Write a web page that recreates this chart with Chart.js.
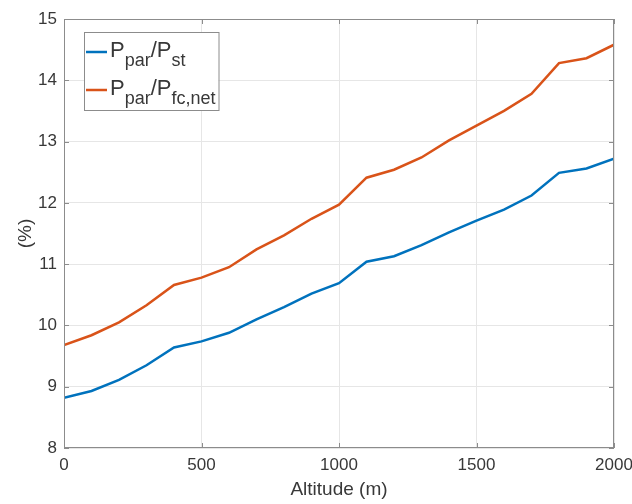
<!DOCTYPE html>
<html>
<head>
<meta charset="utf-8">
<script src="https://cdn.jsdelivr.net/npm/chart.js@4/dist/chart.umd.min.js"></script>
<style>
  html, body { margin: 0; padding: 0; background: #fff; }
</style>
</head>
<body>
<canvas id="chart" width="632" height="504"></canvas>
<script>
const altitudes = [0, 100, 200, 300, 400, 500, 600, 700, 800, 900, 1000,
  1100, 1200, 1300, 1400, 1500, 1600, 1700, 1800, 1900, 2000];
const ratioSt = [8.82, 8.93, 9.11, 9.35, 9.64, 9.74, 9.88, 10.1, 10.3, 10.52, 10.69,
  11.04, 11.13, 11.31, 11.52, 11.71, 11.89, 12.12, 12.49, 12.56, 12.72];
const ratioNet = [9.68, 9.84, 10.05, 10.33, 10.66, 10.78, 10.95, 11.24, 11.47, 11.74, 11.97,
  12.41, 12.54, 12.74, 13.02, 13.26, 13.5, 13.78, 14.28, 14.36, 14.58];
const xTicks = [0, 500, 1000, 1500, 2000];
const yTicks = [8, 9, 10, 11, 12, 13, 14, 15];

// legend entries with subscripts: [text, isSubscript]
const legendLabels = [
  [['P', false], ['par', true], ['/P', false], ['st', true]],
  [['P', false], ['par', true], ['/P', false], ['fc,net', true]]
];

const FONT = '"Liberation Sans", Arial, sans-serif';
const TEXT_COLOR = '#383838';
const BOX_COLOR = '#8c8c8c';
const BLUE = '#0072BD';
const ORANGE = '#D95319';

// MATLAB style box with inward ticks on all four sides
const matlabBox = {
  id: 'matlabBox',
  afterDatasetsDraw(chart) {
    const { ctx, chartArea: a, scales: { x, y } } = chart;
    ctx.save();
    ctx.strokeStyle = BOX_COLOR;
    ctx.lineWidth = 1;
    ctx.strokeRect(a.left + 0.5, a.top + 0.5, a.width - 1, a.height - 1);
    ctx.beginPath();
    xTicks.forEach(v => {
      const px = Math.round(x.getPixelForValue(v)) + 0.5;
      ctx.moveTo(px, a.bottom); ctx.lineTo(px, a.bottom - 5);
      ctx.moveTo(px, a.top); ctx.lineTo(px, a.top + 5);
    });
    yTicks.forEach(v => {
      const py = Math.round(y.getPixelForValue(v)) + 0.5;
      ctx.moveTo(a.left, py); ctx.lineTo(a.left + 5, py);
      ctx.moveTo(a.right, py); ctx.lineTo(a.right - 5, py);
    });
    ctx.stroke();
    ctx.restore();
  }
};

// legend with subscripts, drawn like MATLAB's
const subLegend = {
  id: 'subLegend',
  afterDraw(chart) {
    const { ctx, chartArea: a } = chart;
    const left = a.left + 20;
    const top = a.top + 13;
    const mainFont = '22px ' + FONT;
    const subFont = '18px ' + FONT;
    ctx.save();
    const widths = legendLabels.map(parts => parts.reduce((w, [t, sub]) => {
      ctx.font = sub ? subFont : mainFont;
      return w + ctx.measureText(t).width;
    }, 0));
    const boxW = 26 + Math.max(...widths) + 3;
    const boxH = 78;
    ctx.fillStyle = '#fff';
    ctx.fillRect(left, top, boxW, boxH);
    ctx.strokeStyle = BOX_COLOR;
    ctx.lineWidth = 1;
    ctx.strokeRect(left + 0.5, top + 0.5, boxW, boxH);
    legendLabels.forEach((parts, i) => {
      const ds = chart.data.datasets[i];
      const rowY = top + 20 + i * 38;
      ctx.strokeStyle = ds.borderColor;
      ctx.lineWidth = 2.5;
      ctx.beginPath();
      ctx.moveTo(left + 2, rowY);
      ctx.lineTo(left + 23, rowY);
      ctx.stroke();
      ctx.fillStyle = TEXT_COLOR;
      ctx.textBaseline = 'alphabetic';
      ctx.textAlign = 'left';
      let tx = left + 26;
      parts.forEach(([t, sub]) => {
        ctx.font = sub ? subFont : mainFont;
        ctx.fillText(t, tx, rowY + (sub ? 14 : 5));
        tx += ctx.measureText(t).width;
      });
    });
    ctx.restore();
  }
};

new Chart(document.getElementById('chart'), {
  type: 'line',
  data: {
    datasets: [
      {
        label: 'Ppar/Pst',
        data: altitudes.map((alt, i) => ({ x: alt, y: ratioSt[i] })),
        borderColor: BLUE,
        borderWidth: 2.5,
        pointRadius: 0,
        tension: 0
      },
      {
        label: 'Ppar/Pfc,net',
        data: altitudes.map((alt, i) => ({ x: alt, y: ratioNet[i] })),
        borderColor: ORANGE,
        borderWidth: 2.5,
        pointRadius: 0,
        tension: 0
      }
    ]
  },
  options: {
    responsive: false,
    animation: false,
    layout: { padding: { top: 19, right: 18, left: 0, bottom: 0 } },
    plugins: {
      legend: { display: false },
      tooltip: { enabled: false }
    },
    scales: {
      x: {
        type: 'linear',
        min: 0,
        max: 2000,
        afterBuildTicks: scale => { scale.ticks = xTicks.map(v => ({ value: v })); },
        afterFit: scale => {
          scale.height = 56;
          scale.paddingLeft = 0;
          scale.paddingRight = 0;
        },
        grid: { color: '#e6e6e6', drawTicks: false },
        border: { display: false },
        ticks: {
          color: TEXT_COLOR,
          padding: 7,
          font: { family: FONT, size: 17 },
          maxRotation: 0,
          callback: v => String(v)
        },
        title: {
          display: true,
          text: 'Altitude (m)',
          color: TEXT_COLOR,
          font: { family: FONT, size: 19 },
          padding: { top: 0, bottom: 3 }
        }
      },
      y: {
        min: 8,
        max: 15,
        afterBuildTicks: scale => { scale.ticks = yTicks.map(v => ({ value: v })); },
        afterFit: scale => { scale.width = 64; },
        grid: { color: '#e6e6e6', drawTicks: false },
        border: { display: false },
        ticks: { color: TEXT_COLOR, padding: 7, font: { family: FONT, size: 17 } },
        title: {
          display: true,
          text: '(%)',
          color: TEXT_COLOR,
          font: { family: FONT, size: 19 },
          padding: { top: 14, bottom: 0 }
        }
      }
    }
  },
  plugins: [matlabBox, subLegend]
});
</script>
</body>
</html>
